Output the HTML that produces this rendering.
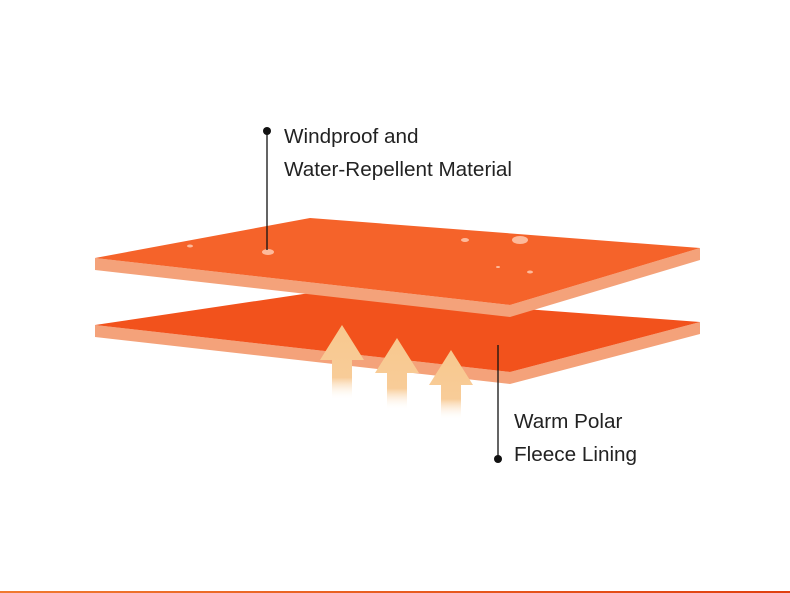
<!DOCTYPE html>
<html><head><style>
body{margin:0;width:790px;height:593px;background:#fff;overflow:hidden;position:relative;font-family:"Liberation Sans",Arial,sans-serif}
.t{position:absolute;font-size:20.7px;color:#222;white-space:nowrap}
</style></head><body>
<svg width="790" height="593" style="position:absolute;left:0;top:0">
<defs>
<linearGradient id="ar" x1="0" y1="0" x2="0" y2="1">
<stop offset="0" stop-color="#f8c88e"/><stop offset="0.7" stop-color="#f8cc98"/><stop offset="1" stop-color="#fff" stop-opacity="0"/>
</linearGradient>
<linearGradient id="bl" x1="0" x2="1"><stop offset="0" stop-color="#f07a30"/><stop offset="1" stop-color="#e04010"/></linearGradient>
</defs>
<polygon points="95,325 95,337 510,384 700,334 700,322 510,372" fill="#f4a27a"/>
<polygon points="95,325 310,293 700,322 510,372" fill="#f2521c"/>
<g fill="url(#ar)">
<polygon points="342,325 364,360 352,360 352,400 332,400 332,360 320,360"/>
<polygon points="397,338 419,373 407,373 407,410 387,410 387,373 375,373"/>
<polygon points="451,350 473,385 461,385 461,420 441,420 441,385 429,385"/>
</g>
<polygon points="95,258 95,270 510,317 700,260 700,248 510,305" fill="#f4a27a"/>
<polygon points="95,258 310,218 700,248 510,305" fill="#f5632a"/>
<g fill="#ffd0b8" opacity="0.8">
<ellipse cx="268" cy="252" rx="6" ry="3"/><ellipse cx="520" cy="240" rx="8" ry="4"/><ellipse cx="465" cy="240" rx="4" ry="2"/>
<ellipse cx="190" cy="246" rx="3" ry="1.5"/><ellipse cx="530" cy="272" rx="3" ry="1.5"/><ellipse cx="498" cy="267" rx="2" ry="1"/>
</g>
<line x1="267" y1="131" x2="267" y2="250" stroke="#111" stroke-width="1.3"/>
<circle cx="267" cy="131" r="4" fill="#111"/>
<line x1="498" y1="345" x2="498" y2="459" stroke="#111" stroke-width="1.3"/>
<circle cx="498" cy="459" r="4" fill="#111"/>
<rect x="0" y="591" width="790" height="2" fill="url(#bl)"/>
</svg>
<div class="t" style="left:284px;top:125px">Windproof and</div>
<div class="t" style="left:284px;top:158px">Water-Repellent Material</div>
<div class="t" style="left:514px;top:410px">Warm Polar</div>
<div class="t" style="left:514px;top:443px">Fleece Lining</div>
</body></html>
